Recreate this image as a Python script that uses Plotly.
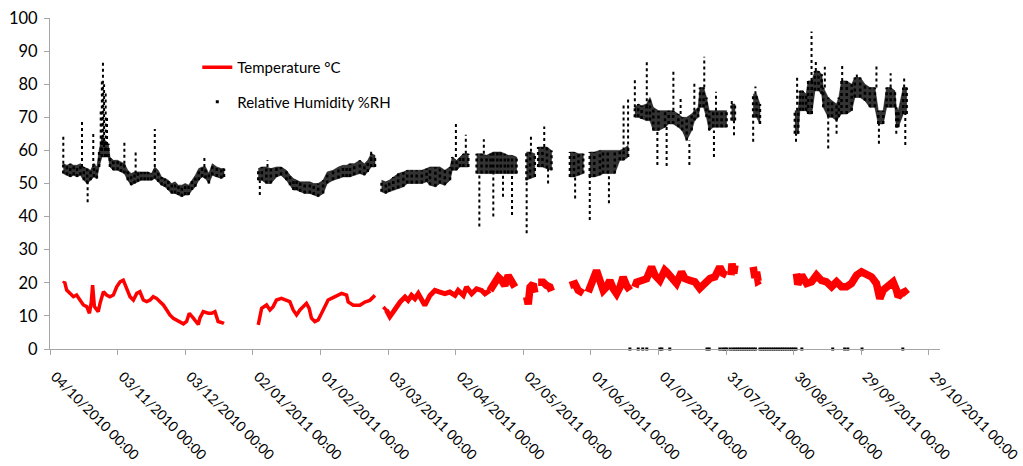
import datetime as dt
import plotly.graph_objects as go

START = dt.datetime(2010, 10, 4)

# ---------------- data (day offsets from 04/10/2010) ----------------
tick_days = [0, 30, 60, 90, 120, 150, 180, 210, 240, 270, 300, 330, 360, 390]
tick_labels = ["04/10/2010 00:00", "03/11/2010 00:00", "03/12/2010 00:00",
               "02/01/2011 00:00", "01/02/2011 00:00", "03/03/2011 00:00",
               "02/04/2011 00:00", "02/05/2011 00:00", "01/06/2011 00:00",
               "01/07/2011 00:00", "31/07/2011 00:00", "30/08/2011 00:00",
               "29/09/2011 00:00", "29/10/2011 00:00"]

# Temperature (°C); None marks a gap in logging
temp_days = [5.9, 6.5, 7.4, 8.9, 10.4, 11.8, 13.3, 14.8, 16.3, 17.5, 18.3, 18.9, 19.7, 21.4, 22.2,
             23.7, 25.1, 26.6, 28.1, 29.6, 31.1, 32.5, 34.0, 35.5, 37.0, 38.5, 39.9, 41.4, 42.9,
             44.4, 45.8, 47.3, 48.8, 50.3, 51.8, 53.2, 54.7, 56.2, 57.7, 59.2, 60.6, 61.8, 63.6,
             64.8, 65.8, 66.5, 68.0, 70.2, 71.7, 73.2, 74.6, 76.9, 77.2, None,
             92.4, 93.1, 93.9, 96.1, 97.6, 99.0, 100.5, 102.7, 104.9, 106.4, 107.9, 109.4, 110.9,
             112.3, 113.8, 115.0, 116.0, 117.5, 119.0, 120.5, 122.0, 123.4, 124.9, 126.4, 127.9,
             129.4, 131.6, 132.3, 134.6, 137.5, 139.7, 141.9, 144.2, None,
             147.9, 149.3, 150.8, 152.3, 153.8, 155.3, 157.5, 158.9, 160.4, 161.9, 163.4, 164.9,
             166.3, 168.6, 170.8, 173.0, 175.2, 177.4, 179.7, 181.1, 183.4, 184.8, 187.1, 189.3,
             191.5, 193.0, 195.2, 197.4, 198.9, 200.4, 201.8, 203.3, 204.8, 206.3, None,
             211.5, 212.2, 213.0, 214.4, 215.1, None,
             216.6, 218.8, 220.3, 221.8, 222.5, None,
             230.7, 232.9, 234.4, 236.6, None,
             238.8, 241.0, 242.5, 244.0, 245.5, 246.9, 248.4, 249.9, 251.4, 252.9, 254.3, 255.8,
             257.3, None,
             259.5, 260.3, 262.5, 264.7, 266.9, 268.4, 270.6, 272.8, 273.6, 275.8, 278.0, 280.2,
             281.7, 283.9, 286.1, 288.3, 290.6, 292.8, 295.0, 297.2, 298.7, 300.2, None,
             302.2, 302.6, 303.4, 303.9, None,
             312.0, 312.8, 313.5, 314.2, 315.0, None,
             331.2, 331.8, 333.5, 335.7, 337.9, 340.1, 342.3, 344.5, 346.8, 349.0, 351.2, 353.4,
             355.6, 357.9, 360.1, 362.3, 364.5, 366.7, 367.5, 368.2, 369.7, 371.9, 374.1, 375.6,
             376.3, 377.8, 379.3, 380.3]
temp_vals = [19.8, 20.3, 17.8, 16.8, 15.8, 16.3, 14.8, 13.3, 12.8, 10.8, 14.0, 19.3, 12.8, 11.3, 13.8,
             17.3, 16.3, 15.8, 16.3, 18.8, 20.3, 20.8, 18.3, 15.8, 14.8, 16.8, 17.3, 14.8, 14.3,
             14.8, 15.8, 15.3, 14.3, 13.3, 11.8, 10.3, 9.3, 8.8, 8.3, 7.6, 8.3, 10.8, 9.3,
             8.2, 7.4, 9.3, 11.3, 10.8, 10.8, 11.3, 8.3, 7.8, 7.7, None,
             7.3, 9.8, 12.3, 13.3, 11.8, 12.8, 14.8, 15.3, 14.8, 14.3, 11.8, 10.3, 11.8,
             12.8, 13.8, 12.3, 9.3, 8.3, 8.8, 10.8, 12.8, 14.8, 15.3, 15.8, 16.3,
             16.8, 16.3, 14.2, 13.2, 13.2, 14.2, 14.7, 16.2, None,
             12.7, 11.7, 9.8, 11.2, 12.7, 14.2, 15.7, 14.7, 16.2, 15.2, 16.7, 14.7,
             13.2, 16.2, 17.7, 17.2, 16.7, 17.2, 16.2, 17.7, 16.2, 18.7, 16.7, 18.2,
             17.7, 16.7, 17.7, 19.7, 21.7, 20.7, 19.2, 22.2, 20.2, 18.7, None,
             15.7, 13.5, 18.7, 19.7, 17.0, None,
             20.2, 20.2, 19.2, 18.7, 17.5, None,
             19.2, 19.7, 17.7, 16.8, None,
             17.2, 21.2, 23.7, 20.7, 17.7, 18.7, 20.7, 18.2, 16.7, 18.7, 21.7, 19.2,
             17.7, None,
             18.7, 20.2, 20.7, 21.2, 24.8, 22.3, 20.7, 23.8, 23.3, 21.3, 19.8, 23.3,
             21.3, 20.7, 20.3, 18.3, 19.8, 21.3, 21.8, 24.8, 22.8, 22.3, None,
             22.3, 25.8, 22.8, 25.3, None,
             24.8, 21.5, 23.3, 20.5, 20.8, None,
             22.8, 19.5, 22.3, 19.8, 20.3, 22.3, 20.7, 20.3, 18.8, 20.3, 18.8, 18.8,
             19.8, 22.3, 23.3, 22.8, 21.8, 19.8, 16.5, 15.2, 17.8, 18.8, 20.3, 17.8,
             15.8, 16.8, 17.3, 16.5]

# Relative humidity (%RH): bulk of the hourly readings (low / high of the cloud)
rh_days = [5.9, 7.5, 9, 10.5, 12, 13.5, 15, 16.5, 18, 19.5, 20.8, 21.8, 23, 24.5, 25.9, 26.6,
           28.1, 30, 31.5, 33, 34.5, 36, 37.5, 39, 40.5, 42, 43.5, 45, 46.5, 48, 49.5, 51, 52.5,
           54, 55.5, 57, 58.5, 60, 61.5, 63, 64.5, 66, 67.5, 69, 70.5, 72, 74, 76, 77.2, None,
           92.4, 94, 96, 98, 100.5, 102.5, 104.9, 106.5, 108, 109.4, 111, 113, 115.3, 117, 119,
           121.2, 123, 125.6, 128, 130, 131.6, 133.1, 135, 137.5, 139.5, 141, 142.5, 144.2, None,
           147.1, 149, 150.5, 152.3, 154.5, 156.8, 158.5, 160.5, 162.7, 165, 167.1, 168.6, 171,
           173, 175.2, 177.5, 178.5, 180.4, 181.9, 183.4, 185.6, None,
           189.3, 191.5, 193.7, 195.5, 196.7, 198.5, 200, 201.8, 203.3, 205, 207.0, None,
           211.4, 213, 215.1, None,
           216.6, 218.5, 220.5, 222.5, None,
           230.7, 232.5, 234.5, 236.6, None,
           239.5, 241.5, 244, 245.4, 247.5, 250.6, 252.8, 254.5, 256.5, None,
           259.5, 261, 262.5, 264.7, 266.2, 267.7, 270, 272.9, 274.5, 276.5, 278.8, 280.5, 282.5,
           284.7, 286, 287.6, 288.4, 290, 291.3, 292.5, 294.3, 296, 298, 300.2, None,
           302.4, 303.9, None,
           312, 313.5, 315, None,
           330.5, 332, 332.7, 334, 335.5, 336.4, 338, 339.4, 341, 342.4, 343.1, 345.3, 347, 349,
           350, 351.2, 353.5, 355.7, 357.1, 359.5, 361.6, 363.8, 366, 367.5, 369.7, 371.2, 373,
           374.9, 375.5, 376.4, 378.6, 380.1]
rh_lo = [53, 52.5, 52, 52.5, 52, 52.5, 51, 50, 51, 52, 51.5, 55, 58, 58, 58, 55,
         54, 54, 53.5, 53, 51, 49.5, 50, 50.5, 51, 51, 51, 51, 51.5, 50.5, 49.5, 49, 48,
         47, 47, 46.5, 46, 46.5, 46.5, 48, 49, 51, 52, 51.5, 50, 52.5, 52, 51.5, 52, None,
         51, 51, 50, 50, 52, 52.5, 51, 49.5, 48, 48, 47.5, 47, 47, 46.5, 46,
         47, 50, 51, 51.5, 52, 52, 52, 52.5, 53, 52.5, 53.5, 55, 55, None,
         47.5, 47, 47.5, 48, 48.5, 49, 50, 50, 50, 50, 50.5, 49.5, 49,
         50, 49.5, 51, 54, 54, 55, 55, 55, None,
         53, 53, 53, 53, 53, 53, 53, 53, 53, 53, 53, None,
         51, 51.5, 52, None,
         55, 55, 54.5, 54, None,
         52, 52, 52.5, 53, None,
         52, 52, 52.5, 53, 53, 53, 57, 57, 58, None,
         70, 70, 69.5, 69, 69, 66, 66, 67, 68, 68, 67, 66, 63,
         66, 69, 70, 73, 73, 70, 66, 67, 67, 67, 67, None,
         69, 69, None,
         70, 70, 68, None,
         65, 65, 72, 72, 72, 71, 71, 78, 78, 77, 73, 70, 70, 69,
         70, 71, 71, 72, 76, 76, 75, 73, 73, 68, 68, 73, 73,
         73, 67, 67, 71, 71]
rh_hi = [56, 55.5, 56, 55.5, 55.5, 56, 55, 54.5, 54, 56, 55, 60, 64, 63, 62, 58,
         57, 57, 56.5, 56, 54, 53, 53.5, 53.5, 53.5, 53.5, 53.5, 53, 55, 54, 52, 51.5, 51,
         50, 50.5, 49.5, 49.5, 50, 49.5, 51, 52.5, 54.5, 55, 55, 53, 56, 55, 54.5, 54.5, None,
         54.5, 55, 55, 54.5, 55, 55, 54, 52.5, 51.5, 51, 50.5, 50.5, 50.5, 50, 50,
         51, 53.5, 54, 55, 55.5, 55.5, 56, 56, 57, 56, 57, 59, 58.5, None,
         51, 50.5, 51, 52, 53, 53.5, 54, 54, 54, 54, 54.5, 55, 55,
         55, 54, 55, 58, 57, 58, 59, 59, None,
         59, 59, 58.5, 59, 59.5, 59.5, 59.5, 59, 58.5, 58.5, 58, None,
         59.5, 59.5, 59, None,
         61, 61, 61, 60, None,
         59.5, 59.5, 59, 59, None,
         59.5, 59.5, 60, 60, 60, 60, 60, 60.5, 61.5, None,
         73, 74, 73.5, 74, 76, 73, 72, 72, 72, 72, 71, 70, 70,
         71, 72, 73, 79, 79, 76, 72, 72, 72, 72, 72, None,
         74, 74, None,
         77, 77, 74, None,
         72, 72, 78, 78, 77, 81, 81, 84, 84, 83, 79, 76, 75, 74,
         76, 81, 81, 80, 82, 82, 80, 79, 79, 72, 72, 79, 79,
         78, 73, 72, 79, 79]

# Relative humidity: isolated runs of readings away from the bulk (day, low, high)
spike_days = [5.9, 14.2, 16.7, 19.2, 22.5, 23.0, 23.5, 24.0, 24.7, 25.3, 33.0, 38.0, 46.5, 68.5,
              93.1, 96.5, 142.5, 180.1, 184.5, 190.5, 192.5, 196.7, 201.0, 205.0, 211.5, 213.4,
              219.3, 221.0, 233.0, 239.5, 248.0, 254.5, 256.5, 259.5, 264.8, 269.5, 273.6,
              276.6, 279.8, 283.7, 285.9, 290.3, 294.6, 295.5, 302.5, 303.5, 312.0, 313.0,
              331.0, 331.5, 337.9, 339.8, 343.8, 345.3, 349.0, 351.5, 358.0, 366.7, 367.8,
              373.0, 375.5, 379.0, 379.5]
spike_lo = [56, 55, 44.3, 55, 60, 60, 62, 61, 60, 58, 56, 53, 55, 55,
            46.5, 55, 57, 58, 59, 37, 59, 40, 46, 40.5, 35, 59.6,
            61, 50, 45.5, 39, 44, 60, 60, 73, 73, 55.6, 55.3,
            72, 71, 55.6, 72, 79, 58, 72, 74, 64.6, 62.6, 77,
            62.6, 72, 81, 84, 79, 60.6, 65, 81, 82, 79, 62,
            79, 65, 79, 61.6]
spike_hi = [64.5, 69, 51, 65.5, 72, 81, 87, 80, 78, 70, 62.5, 60, 66.5, 58,
            51, 57, 59.6, 68.2, 64.7, 53, 63.4, 53, 53, 53, 51, 64.7,
            67.2, 55, 52, 52, 53, 74, 75.4, 82, 87, 66, 68,
            84, 75.7, 63, 80.8, 88.3, 66, 77.7, 75.7, 69, 70, 79.3,
            65, 82.8, 95.9, 86.8, 85.3, 70, 70, 85.8, 83.3, 85.8, 68,
            83.3, 67, 81.8, 71]

# Relative humidity readings logged as 0 %RH
rh_zero_days = [257.3, 261, 263, 264.8, 270.6, 271.5, 275, 291.5, 292.5, 297.2, 298.5, 299.5,
                300.3, 301.8, 303, 304, 305, 306, 307, 308, 309, 310, 311, 312, 313,
                315, 316, 317, 318, 319, 320, 321, 322, 323, 324, 325, 326, 327, 328, 329,
                330, 331, 333.6, 347.3, 352.6, 354, 360.3, 378.4]
rh_zero_vals = [0] * len(rh_zero_days)


def to_date(d):
    return None if d is None else START + dt.timedelta(days=d)


def segments(days, *cols):
    segs, cur = [], []
    for row in zip(days, *cols):
        if row[0] is None:
            if cur:
                segs.append(cur)
            cur = []
        else:
            cur.append(row)
    if cur:
        segs.append(cur)
    return segs


fig = go.Figure()

# Temperature: drawn thicker where the daily swing widens the trace
tiers = [(0, 150, 3.5, True), (150, 195, 5.0, False), (195, 400, 7.5, False)]
for a, b, w, show in tiers:
    xs, ys = [], []
    for seg in segments(temp_days, temp_vals):
        pts = [(d, v) for d, v in seg if a - 1.6 <= d <= b + 1.6]
        if pts:
            xs += [to_date(d) for d, _ in pts] + [None]
            ys += [v for _, v in pts] + [None]
    fig.add_trace(go.Scatter(
        x=xs, y=ys, mode="lines", name="Temperature °C",
        line=dict(color="#ff0000", width=w), showlegend=show,
        legendgroup="t", legendrank=1, hoverinfo="skip"))

# Relative humidity: bulk cloud (dark fill + stippled columns of readings)
bx, by = [], []
cx, cy = [], []
for seg in segments(rh_days, rh_lo, rh_hi):
    ds = [to_date(r[0]) for r in seg]
    bx += ds + ds[::-1] + [None]
    by += [r[2] for r in seg] + [r[1] for r in seg][::-1] + [None]
    for r in seg:
        cx += [to_date(r[0]), to_date(r[0]), None]
        cy += [r[1], r[2], None]
fig.add_trace(go.Scatter(x=bx, y=by, mode="lines", fill="toself",
                         fillcolor="rgba(0,0,0,0.8)",
                         line=dict(color="rgba(0,0,0,0.5)", width=1),
                         showlegend=False, hoverinfo="skip"))
fig.add_trace(go.Scatter(x=cx, y=cy, mode="lines",
                         line=dict(color="black", width=2.5, dash="dot"),
                         showlegend=False, hoverinfo="skip"))

# Relative humidity: spikes of readings
sx, sy = [], []
for d, lo, hi in zip(spike_days, spike_lo, spike_hi):
    sx += [to_date(d), to_date(d), None]
    sy += [lo, hi, None]
fig.add_trace(go.Scatter(x=sx, y=sy, mode="lines",
                         line=dict(color="black", width=2, dash="dot"),
                         showlegend=False, hoverinfo="skip"))

# Relative humidity: zero readings (also legend entry)
fig.add_trace(go.Scatter(x=[to_date(d) for d in rh_zero_days], y=rh_zero_vals,
                         mode="markers", name="Relative Humidity %RH",
                         marker=dict(color="black", size=3, symbol="square"),
                         cliponaxis=False, legendgroup="rh", legendrank=2,
                         hoverinfo="skip"))

FONT = "Lato, 'Open Sans', sans-serif"
PAD = "\u00a0\u00a0"
fig.update_layout(
    width=1023, height=466,
    margin=dict(l=50, r=83, t=18, b=117, autoexpand=False),
    paper_bgcolor="white", plot_bgcolor="white",
    font=dict(family=FONT, color="black", size=15),
    legend=dict(x=0.1655, y=0.9, xanchor="left", yanchor="top",
                bgcolor="rgba(0,0,0,0)", tracegroupgap=12,
                font=dict(size=15)),
    xaxis=dict(type="date", automargin=False,
               range=[START, START + dt.timedelta(days=394.9)],
               tickvals=[to_date(d) for d in tick_days],
               ticktext=[PAD + t for t in tick_labels],
               tickangle=45, ticks="outside", ticklen=5, tickcolor="#a6a6a6",
               showline=True, linecolor="#a6a6a6", linewidth=1,
               showgrid=False, zeroline=False, ticklabelstandoff=3,
               tickfont=dict(family=FONT, size=14, color="black")),
    yaxis=dict(range=[0, 100], tickmode="linear", tick0=0, dtick=10, automargin=False,
               ticks="outside", ticklen=5, tickcolor="#a6a6a6",
               showline=True, linecolor="#a6a6a6", linewidth=1,
               showgrid=False, zeroline=False, ticklabelstandoff=3,
               tickfont=dict(family=FONT, size=16.5, color="black")),
)

fig.write_html("out.html", config={"displayModeBar": False},
               post_script="document.body.style.margin='0';document.body.style.padding='0';")
